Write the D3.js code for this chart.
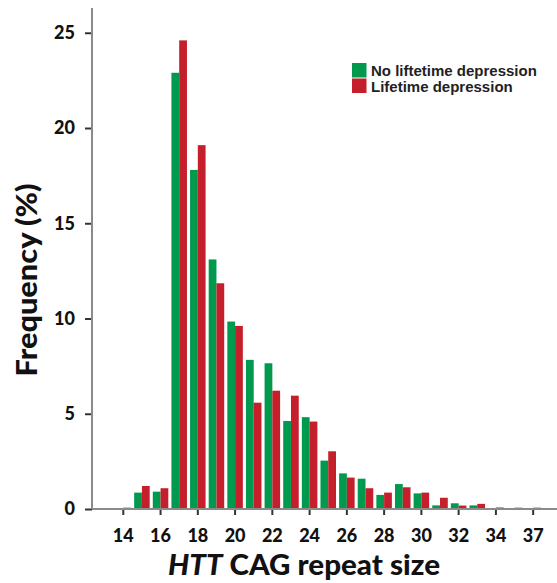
<!DOCTYPE html>
<html>
<head>
<meta charset="utf-8">
<script src="https://cdn.jsdelivr.net/npm/d3@7"></script>
<style>
  body { margin: 0; background: #fff; }
  svg { display: block; }
  .tick text { font-family: Lato, "Open Sans", sans-serif; font-weight: 900; fill: #111; }
</style>
</head>
<body>
<div id="chart"></div>
<script>
// CAG repeat sizes (36 not present in the data)
var repeats = [14, 15, 16, 17, 18, 19, 20, 21, 22, 23, 24, 25, 26, 27, 28, 29, 30, 31, 32, 33, 34, 35, 37];
var noDepression = [0, 0.86, 0.91, 22.9, 17.8, 13.1, 9.84, 7.83, 7.65, 4.62, 4.82, 2.54, 1.87, 1.59, 0.74, 1.31, 0.82, 0.19, 0.3, 0.19, 0, 0, 0];
var lifetimeDepression = [0.07, 1.21, 1.09, 24.6, 19.1, 11.85, 9.61, 5.58, 6.21, 5.95, 4.59, 3.03, 1.65, 1.09, 0.86, 1.14, 0.86, 0.59, 0.18, 0.27, 0.08, 0.07, 0.07];
var xTickLabels = [14, 16, 18, 20, 22, 24, 26, 28, 30, 32, 34, 37];
var yTickLabels = [0, 5, 10, 15, 20, 25];
var seriesNames = ["No liftetime depression", "Lifetime depression"];
var seriesColors = ["#009a4e", "#c41f2b"];

var view = {
    width: 557,
    height: 583,
    left: 92,
    bottom: 509,
    top: 8
};

var svg = d3.select("#chart").append("svg")
    .attr("width", view.width)
    .attr("height", view.height);

var step = 18.63;
var x = d3.scaleBand()
    .domain(repeats)
    .range([123.3 - step / 2, 123.3 - step / 2 + step * repeats.length]);

var xInner = d3.scaleBand()
    .domain([0, 1])
    .range([0, x.bandwidth()])
    .paddingOuter(0.2);

var y = d3.scaleLinear()
    .domain([0, 26.3])
    .range([view.bottom, view.top]);

var rows = repeats.map(function(r, i) {
    return { repeat: r, values: [noDepression[i], lifetimeDepression[i]] };
});

// bars
var groups = svg.append("g").selectAll("g")
    .data(rows)
    .enter().append("g")
    .attr("transform", function(d) { return "translate(" + x(d.repeat) + ",0)"; });

groups.selectAll("rect")
    .data(function(d) { return d.values.map(function(v, k) { return { k: k, v: v }; }); })
    .enter().append("rect")
    .attr("x", function(d) { return xInner(d.k); })
    .attr("width", xInner.bandwidth())
    .attr("y", function(d) { return y(d.v); })
    .attr("height", function(d) { return view.bottom - y(d.v); })
    .attr("fill", function(d) { return seriesColors[d.k]; });

// y axis
var yAxis = d3.axisLeft(y)
    .tickValues(yTickLabels)
    .tickSize(7)
    .tickSizeOuter(0)
    .tickPadding(10);

var gy = svg.append("g")
    .attr("transform", "translate(" + view.left + ",0)")
    .call(yAxis);
gy.select(".domain").remove();
gy.selectAll(".tick line").attr("stroke", "#333").attr("stroke-width", 2);
gy.selectAll(".tick text").style("font-size", "18px");

svg.append("line")
    .attr("x1", view.left).attr("x2", view.left)
    .attr("y1", view.top).attr("y2", view.bottom)
    .attr("stroke", "#8a8a8a").attr("stroke-width", 2);

// x axis
var xAxis = d3.axisBottom(x)
    .tickValues(xTickLabels)
    .tickSize(6)
    .tickSizeOuter(0)
    .tickPadding(14);

var gx = svg.append("g")
    .attr("transform", "translate(0," + view.bottom + ")")
    .call(xAxis);
gx.select(".domain").remove();
gx.selectAll(".tick line").attr("stroke", "#333").attr("stroke-width", 2);
gx.selectAll(".tick text").style("font-size", "18px");

svg.append("line")
    .attr("x1", view.left).attr("x2", view.width)
    .attr("y1", view.bottom).attr("y2", view.bottom)
    .attr("stroke", "#8a8a8a").attr("stroke-width", 2);

// axis titles
svg.append("text")
    .attr("transform", "translate(37,280) rotate(-90)")
    .attr("text-anchor", "middle")
    .attr("textLength", 193)
    .attr("lengthAdjust", "spacingAndGlyphs")
    .style("font-family", "Lato, 'Open Sans', sans-serif")
    .style("font-weight", "900")
    .style("font-size", "29px")
    .attr("fill", "#111")
    .text("Frequency (%)");

var xt = svg.append("text")
    .attr("x", 304)
    .attr("y", 575)
    .attr("text-anchor", "middle")
    .attr("textLength", 272)
    .attr("lengthAdjust", "spacingAndGlyphs")
    .style("font-family", "Lato, 'Open Sans', sans-serif")
    .style("font-weight", "900")
    .style("font-size", "28px")
    .attr("fill", "#111");
xt.append("tspan").style("font-style", "italic").text("HTT");
xt.append("tspan").text(" CAG repeat size");

// legend
var legend = svg.append("g")
    .attr("transform", "translate(352,63)")
    .selectAll("g")
    .data(seriesNames)
    .enter().append("g")
    .attr("transform", function(d, i) { return "translate(0," + (i * 15.5) + ")"; });

legend.append("rect")
    .attr("width", 14.5)
    .attr("height", 14.5)
    .attr("fill", function(d, i) { return seriesColors[i]; });

legend.append("text")
    .attr("x", 19)
    .attr("y", 13)
    .style("font-family", "'Liberation Sans', Arial, sans-serif")
    .style("font-weight", "bold")
    .style("font-size", "15px")
    .attr("fill", "#222")
    .text(function(d) { return d; });
</script>
</body>
</html>
